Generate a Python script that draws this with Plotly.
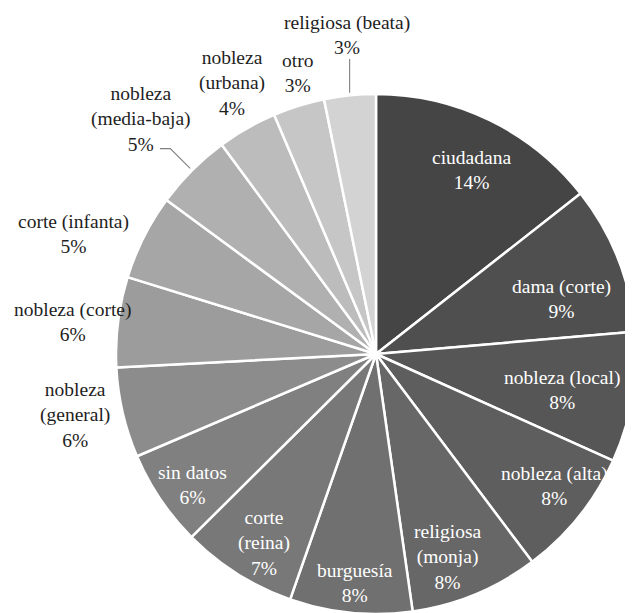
import math
import plotly.graph_objects as go

# ---- data ----
categories = ["ciudadana", "dama (corte)", "nobleza (local)", "nobleza (alta)",
              "religiosa (monja)", "burguesía", "corte (reina)", "sin datos",
              "nobleza (general)", "nobleza (corte)", "corte (infanta)",
              "nobleza (media-baja)", "nobleza (urbana)", "otro", "religiosa (beata)"]
shares = [14.4, 9.2, 8.1, 8.0, 8.0, 7.6, 7.2, 6.0, 5.6, 5.6, 5.3, 4.8, 3.7, 3.2, 3.2]
label_text = ["ciudadana", "dama (corte)", "nobleza (local)", "nobleza (alta)",
              "religiosa<br>(monja)", "burguesía", "corte<br>(reina)", "sin datos",
              "nobleza<br>(general)", "nobleza (corte)", "corte (infanta)",
              "nobleza<br>(media-baja)", "nobleza<br>(urbana)", "otro", "religiosa (beata)"]

# ---- style ----
colors = ["#454545", "#4f4f4f", "#565656", "#5e5e5e", "#676767", "#707070", "#787878",
          "#808080", "#8c8c8c", "#9c9c9c", "#a6a6a6", "#b0b0b0", "#bcbcbc", "#c6c6c6",
          "#d3d3d3"]
inside = [True] * 8 + [False] * 7
# label placement: radius as a fraction of the pie radius, angular nudge in degrees
label_r = [0.797, 0.746, 0.729, 0.855, 0.828, 0.885, 0.845, 0.866,
           1.181, 1.172, 1.253, 1.278, 1.180, 1.123, 1.230]
label_nudge = [1.65, 5.0, 1.3, -2.25, 3.0, -0.35, -1.6, -1.6,
               1.6, -1.1, -5.2, 0.0, 1.75, 1.8, 0.6]
FONT = "Liberation Serif, Times New Roman, serif"
FONT_SIZE = 19.5

fig = go.Figure(go.Pie(
    labels=categories,
    values=shares,
    sort=False,
    direction="clockwise",
    rotation=0,
    marker=dict(colors=colors, line=dict(color="white", width=2.5)),
    textinfo="none",
    hovertemplate="%{label}: %{percent:.0%}<extra></extra>",
    showlegend=False,
))

total = sum(shares)
cum = 0.0
annotations = []
shapes = []
mid_angles = []
for i, v in enumerate(shares):
    mid = 360.0 * (cum + v / 2.0) / total
    mid_angles.append(mid)
    cum += v
    th = math.radians(mid + label_nudge[i])
    x = 0.5 + 0.5 * label_r[i] * math.sin(th)
    y = 0.5 + 0.5 * label_r[i] * math.cos(th)
    pct = round(v / total * 100)
    annotations.append(dict(
        x=x, y=y, xref="paper", yref="paper",
        text=f"{label_text[i]}<br>{pct}%",
        showarrow=False, xanchor="center", yanchor="middle",
        font=dict(family=FONT, size=FONT_SIZE,
                  color="white" if inside[i] else "#1e1e1e"),
    ))


def edge_pt(angle_deg, rf):
    t = math.radians(angle_deg)
    return 0.5 + 0.5 * rf * math.sin(t), 0.5 + 0.5 * rf * math.cos(t)


LEADER = dict(color="#808080", width=1.1)
# leader line for "religiosa (beata)": vertical line from the slice edge upwards
bx, by = edge_pt(mid_angles[14], 1.01)
shapes.append(dict(type="line", xref="paper", yref="paper",
                   x0=bx, y0=by, x1=bx, y1=by + 0.065, line=LEADER))
# leader line for "nobleza (media-baja)": elbow line
mx0, my0 = edge_pt(mid_angles[11], 1.01)
mx1, my1 = edge_pt(mid_angles[11], 1.118)
shapes.append(dict(type="path", xref="paper", yref="paper",
                   path=f"M {mx0},{my0} L {mx1},{my1} L {mx1 - 0.02},{my1}",
                   line=LEADER))

fig.update_layout(
    width=628, height=608,
    margin=dict(l=108, r=0, t=86, b=2),
    paper_bgcolor="white", plot_bgcolor="white",
    annotations=annotations, shapes=shapes,
    font=dict(family=FONT),
)

fig.write_html("out.html")
